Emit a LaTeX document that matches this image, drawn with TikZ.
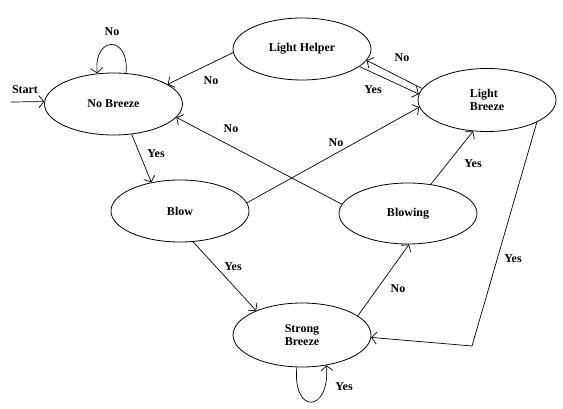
\documentclass[tikz,border=0pt]{standalone}
\usepackage{fontspec}
\setmainfont{Liberation Serif}
\usetikzlibrary{shapes.geometric,arrows.meta}
\begin{document}
\begin{tikzpicture}[x=1pt,y=-1pt,
  state/.style={draw,ellipse,line width=0.8pt,inner sep=0pt,minimum width=138pt,minimum height=62pt,font=\fontsize{12}{13}\selectfont\bfseries,align=left},
  lbl/.style={font=\fontsize{12}{13}\selectfont\bfseries,inner sep=0pt},
  edge/.style={line width=0.7pt,-{Straight Barb[length=5pt,width=12pt,line width=0.7pt]}}]
\useasboundingbox (0,0) rectangle (563,409);
\node[state] (nb) at (113.5,104) {No Breeze};
\node[state] (lh) at (302,49) {Light Helper};
\node[state,minimum height=63pt] (lb) at (487,100) {Light\\Breeze};
\node[state] (bl) at (180,211) {Blow};
\node[state,minimum height=61pt] (bw) at (408,213.5) {Blowing};
\node[state,minimum height=64pt] (sb) at (302,335) {Strong\\Breeze};
\coordinate (st) at (11,102);
\coordinate (cr) at (472,346);
% start
\draw[edge] (st) -- (nb.178);
\node[lbl] (tstart) at (25,90) {Start};
% self loop No Breeze
\draw[edge] (nb.68) .. controls (130,35) and (93,35) .. (nb.118);
\node[lbl] (tl1) at (112,32) {No};
% light helper -> no breeze
\draw[edge] (lh.183) -- (nb.20);
\node[lbl] (tl2) at (211,81) {No};
% blowing -> no breeze
\draw[edge] (bw.172) -- (nb.-12);
\node[lbl] (tl3) at (231,129) {No};
% no breeze -> blow
\draw[edge] (nb.-59) -- (bl.135);
\node[lbl] (tl4) at (156,154) {Yes};
% light helper -> light breeze
\draw[edge] (lh.-17) -- (lb.175);
\node[lbl] (tl5) at (373,90) {Yes};
% light breeze -> light helper
\draw[edge] (lb.170) -- (lh.-10);
\node[lbl] (tl6) at (402,58) {No};
% blow -> light breeze
\draw[edge] (bl.7) -- (lb.186);
\node[lbl] (tl7) at (336,143) {No};
% blowing -> light breeze
\draw[edge] (bw.52) -- (lb.246);
\node[lbl] (tl8) at (473,164) {Yes};
% light breeze -> strong breeze
\draw[edge] (lb.-24) -- (cr) -- (sb.-2);
\node[lbl] (tl9) at (513,259) {Yes};
% blow -> strong breeze
\draw[edge] (bl.-67) -- (sb.152);
\node[lbl] (tl10) at (233,267) {Yes};
% strong breeze -> blowing
\draw[edge] (sb.19) -- (bw.-88);
\node[lbl] (tl11) at (398,289) {No};
% self loop strong breeze
\draw[edge] (sb.-99) .. controls (292,414) and (330,414) .. (sb.-51);
\node[lbl] (tl12) at (344,387) {Yes};
\end{tikzpicture}
\end{document}
